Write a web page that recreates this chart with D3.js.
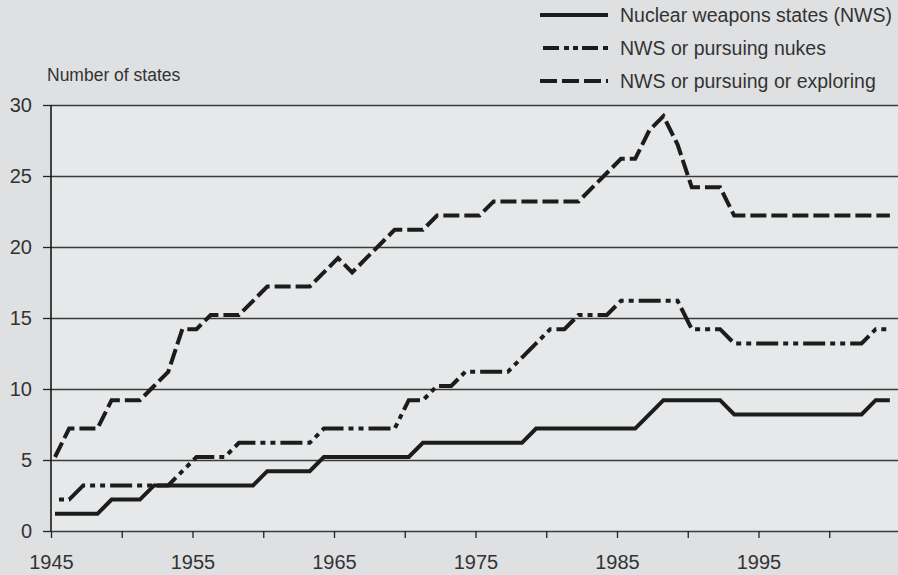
<!DOCTYPE html>
<html>
<head>
<meta charset="utf-8">
<style>
	body { margin: 0; background: #dfe0e2; }
	svg { display: block; font-family: "Liberation Sans", Arial, sans-serif; }
	.lbl { fill: #333; }
	.grid line { stroke: #3a3a3a; stroke-width: 1.3; }
	.axis path { stroke: none; }
	.axis line { stroke: #222; stroke-width: 1.3; }
	.axis text { fill: #333; }
	.series { fill: none; stroke: #1c1c1c; stroke-width: 4; stroke-linejoin: miter; }
</style>
<script src="https://cdn.jsdelivr.net/npm/d3@7"></script>
</head>
<body>
<script>
'use strict';

// years 1945..2004
var years = d3.range(1945, 2005);

var seriesNames = [
	'Nuclear weapons states (NWS)',
	'NWS or pursuing nukes',
	'NWS or pursuing or exploring'
];

var nws = [
	1, 1, 1, 1, 2, 2, 2, 3, 3, 3,
	3, 3, 3, 3, 3, 4, 4, 4, 4, 5,
	5, 5, 5, 5, 5, 5, 6, 6, 6, 6,
	6, 6, 6, 6, 7, 7, 7, 7, 7, 7,
	7, 7, 8, 9, 9, 9, 9, 9, 8, 8,
	8, 8, 8, 8, 8, 8, 8, 8, 9, 9
];

var pursuing = [
	2, 2, 3, 3, 3, 3, 3, 3, 3, 4,
	5, 5, 5, 6, 6, 6, 6, 6, 6, 7,
	7, 7, 7, 7, 7, 9, 9, 10, 10, 11,
	11, 11, 11, 12, 13, 14, 14, 15, 15, 15,
	16, 16, 16, 16, 16, 14, 14, 14, 13, 13,
	13, 13, 13, 13, 13, 13, 13, 13, 14, 14
];

var exploring = [
	5, 7, 7, 7, 9, 9, 9, 10, 11, 14,
	14, 15, 15, 15, 16, 17, 17, 17, 17, 18,
	19, 18, 19, 20, 21, 21, 21, 22, 22, 22,
	22, 23, 23, 23, 23, 23, 23, 23, 24, 25,
	26, 26, 28, 29, 27, 24, 24, 24, 22, 22,
	22, 22, 22, 22, 22, 22, 22, 22, 22, 22
];

var yTicks = [0, 5, 10, 15, 20, 25, 30];
var xTicks = d3.range(1945, 2001, 5);
var xLabels = [1945, 1955, 1965, 1975, 1985, 1995];

var dashes = ['none', '22,5,5,5,5,5', '16,5'];

var W = 898, H = 575;
var plot = {left: 51, top: 105, right: 898, bottom: 531};
var font = '"Liberation Sans", Arial, sans-serif';

var svg = d3.select('body').append('svg')
	.attr('width', W)
	.attr('height', H);

svg.append('rect')
	.attr('width', W).attr('height', H)
	.attr('fill', '#dfe0e2');

svg.append('rect')
	.attr('x', plot.left).attr('y', plot.top)
	.attr('width', plot.right - plot.left)
	.attr('height', plot.bottom - plot.top)
	.attr('fill', '#e7e8e9');

var x = d3.scaleLinear()
	.domain([1945, 2005])
	.range([plot.left, plot.left + 60 * 14.15]);

var y = d3.scaleLinear()
	.domain([0, 30])
	.range([plot.bottom, plot.top]);

// horizontal gridlines
svg.append('g')
	.attr('class', 'grid')
	.attr('transform', 'translate(' + plot.left + ',0)')
	.call(d3.axisLeft(y).tickValues(yTicks).tickSize(-(plot.right - plot.left)).tickFormat(''))
	.call(g => g.select('.domain').remove());

svg.append('g')
	.attr('class', 'axis')
	.attr('transform', 'translate(' + plot.left + ',0)')
	.call(d3.axisLeft(y).tickValues(yTicks).tickSize(8).tickPadding(11))
	.attr('font-size', 20)
	.attr('font-family', font)
	.call(g => g.select('.domain').remove());

svg.append('line')
	.attr('x1', plot.left).attr('x2', plot.left)
	.attr('y1', plot.top).attr('y2', plot.bottom)
	.attr('stroke', '#1a1a1a').attr('stroke-width', 1.6);

svg.append('g')
	.attr('class', 'axis')
	.attr('transform', 'translate(0,' + plot.bottom + ')')
	.call(d3.axisBottom(x).tickValues(xTicks).tickSize(7).tickPadding(17)
		.tickFormat(d => xLabels.indexOf(d) >= 0 ? d : ''))
	.attr('font-size', 20)
	.attr('font-family', font)
	.call(g => g.select('.domain').remove());

// lines
var line = d3.line()
	.x((d, i) => x(years[i]))
	.y(d => y(d));

var lines = svg.append('g')
	.attr('transform', 'translate(4,-3)');

[nws, pursuing, exploring].forEach(function(s, i) {
	lines.append('path')
		.attr('class', 'series')
		.attr('d', line(s))
		.attr('stroke-dasharray', dashes[i])
		.attr('stroke-dashoffset', i === 1 ? 33 : 0);
});

// y title
svg.append('text')
	.attr('class', 'lbl')
	.attr('x', 47).attr('y', 81)
	.style('font-size', '17.5px')
	.text('Number of states');

// legend
var lgd = svg.append('g')
	.selectAll('g')
	.data(seriesNames)
	.enter().append('g')
	.attr('transform', (d, i) => 'translate(540,' + (15 + i * 33) + ')');

lgd.append('line')
	.attr('class', 'series')
	.attr('x1', (d, i) => i === 1 ? 3 : 0).attr('x2', 68)
	.attr('stroke-dasharray', (d, i) => i === 0 ? 'none' : (i === 1 ? '16,5,5,4,5,4' : '17,5'));

lgd.append('text')
	.attr('class', 'lbl')
	.attr('x', 80).attr('dy', '0.36em')
	.style('font-size', '19.5px')
	.text(d => d);
</script>
</body>
</html>
